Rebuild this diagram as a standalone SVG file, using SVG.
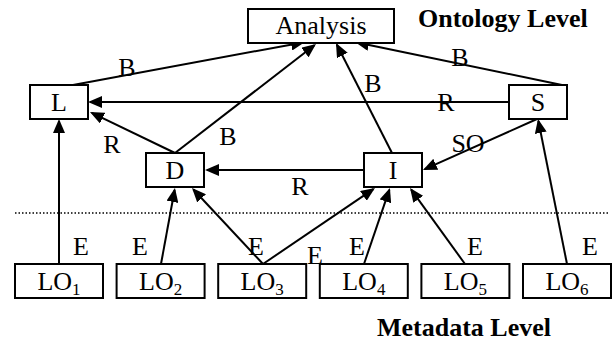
<svg xmlns="http://www.w3.org/2000/svg" width="616" height="341" viewBox="0 0 616 341">
  <style>
    .box { fill: #fff; stroke: #000; stroke-width: 2; }
    .lbl { font-family: "Liberation Serif", "Times New Roman", serif; font-size: 26px; fill: #000; text-anchor: middle; }
    .title { font-family: "Liberation Serif", "Times New Roman", serif; font-size: 26px; font-weight: bold; fill: #000; }
    .edge { stroke: #000; stroke-width: 2; fill: none; marker-end: url(#arrow); }
    .sub { font-size: 17px; }
  </style>
  <defs>
    <marker id="arrow" markerUnits="userSpaceOnUse" markerWidth="14" markerHeight="12" refX="12" refY="6" orient="auto">
      <path d="M0,0 L14,6 L0,12 z" fill="#000"/>
    </marker>
  </defs>
  <rect width="616" height="341" fill="#fff"/>

  <!-- level separator -->
  <line x1="15" y1="213" x2="609" y2="213" stroke="#000" stroke-width="1.5" stroke-dasharray="1.5 2"/>

  <!-- connectors -->
  <g id="connectors">
    <line class="edge" x1="73" y1="85" x2="303" y2="42.4"/>
    <line class="edge" x1="175" y1="153" x2="314.4" y2="45.2"/>
    <line class="edge" x1="392" y1="153" x2="336.9" y2="44.8"/>
    <line class="edge" x1="562" y1="85" x2="357" y2="42.4"/>
    <line class="edge" x1="509" y1="102" x2="90" y2="102"/>
    <line class="edge" x1="175" y1="153" x2="91.8" y2="112.9"/>
    <line class="edge" x1="364" y1="170" x2="207" y2="170"/>
    <line class="edge" x1="537" y1="119" x2="424.8" y2="169.2"/>
    <line class="edge" x1="59" y1="264" x2="59" y2="121"/>
    <line class="edge" x1="161" y1="264" x2="174.6" y2="190"/>
    <line class="edge" x1="263" y1="264" x2="193.4" y2="189.5"/>
    <line class="edge" x1="263" y1="264" x2="373.3" y2="189.1"/>
    <line class="edge" x1="364" y1="264" x2="389.3" y2="189.9"/>
    <line class="edge" x1="465" y1="264" x2="411.2" y2="189.6"/>
    <line class="edge" x1="567" y1="264" x2="538.4" y2="121"/>

    <text class="lbl" x="127" y="76">B</text>
    <text class="lbl" x="228" y="145">B</text>
    <text class="lbl" x="373" y="92">B</text>
    <text class="lbl" x="460" y="66">B</text>
    <text class="lbl" x="446" y="111">R</text>
    <text class="lbl" x="112" y="153">R</text>
    <text class="lbl" x="300" y="195">R</text>
    <text class="lbl" x="468" y="152">SO</text>
    <text class="lbl" x="81" y="255">E</text>
    <text class="lbl" x="140" y="255">E</text>
    <text class="lbl" x="256" y="255">E</text>
    <text class="lbl" x="315" y="264">E</text>
    <text class="lbl" x="357" y="255">E</text>
    <text class="lbl" x="475" y="255">E</text>
    <text class="lbl" x="590" y="255">E</text>
  </g>

  <!-- ontology level -->
  <g id="analysis">
    <rect class="box" x="248" y="9" width="146" height="34"/>
    <text class="lbl" x="321" y="34">Analysis</text>
  </g>
  <g id="node-L">
    <rect class="box" x="30" y="85" width="58" height="34"/>
    <text class="lbl" x="59" y="111">L</text>
  </g>
  <g id="node-S">
    <rect class="box" x="509" y="85" width="58" height="34"/>
    <text class="lbl" x="538" y="111">S</text>
  </g>
  <g id="node-D">
    <rect class="box" x="146" y="153" width="58" height="34"/>
    <text class="lbl" x="175" y="179">D</text>
  </g>
  <g id="node-I">
    <rect class="box" x="364" y="153" width="58" height="34"/>
    <text class="lbl" x="393" y="179">I</text>
  </g>

  <!-- metadata level -->
  <g id="lo1">
    <rect class="box" x="15" y="264" width="88" height="34"/>
    <text class="lbl" x="59" y="290">LO<tspan class="sub" dy="5">1</tspan></text>
  </g>
  <g id="lo2">
    <rect class="box" x="116.6" y="264" width="88" height="34"/>
    <text class="lbl" x="160.6" y="290">LO<tspan class="sub" dy="5">2</tspan></text>
  </g>
  <g id="lo3">
    <rect class="box" x="218.2" y="264" width="88" height="34"/>
    <text class="lbl" x="262.2" y="290">LO<tspan class="sub" dy="5">3</tspan></text>
  </g>
  <g id="lo4">
    <rect class="box" x="319.8" y="264" width="88" height="34"/>
    <text class="lbl" x="363.8" y="290">LO<tspan class="sub" dy="5">4</tspan></text>
  </g>
  <g id="lo5">
    <rect class="box" x="421.4" y="264" width="88" height="34"/>
    <text class="lbl" x="465.4" y="290">LO<tspan class="sub" dy="5">5</tspan></text>
  </g>
  <g id="lo6">
    <rect class="box" x="523" y="264" width="88" height="34"/>
    <text class="lbl" x="567" y="290">LO<tspan class="sub" dy="5">6</tspan></text>
  </g>

  <text class="title" x="418" y="27">Ontology Level</text>
  <text class="title" x="377" y="336">Metadata Level</text>
</svg>
